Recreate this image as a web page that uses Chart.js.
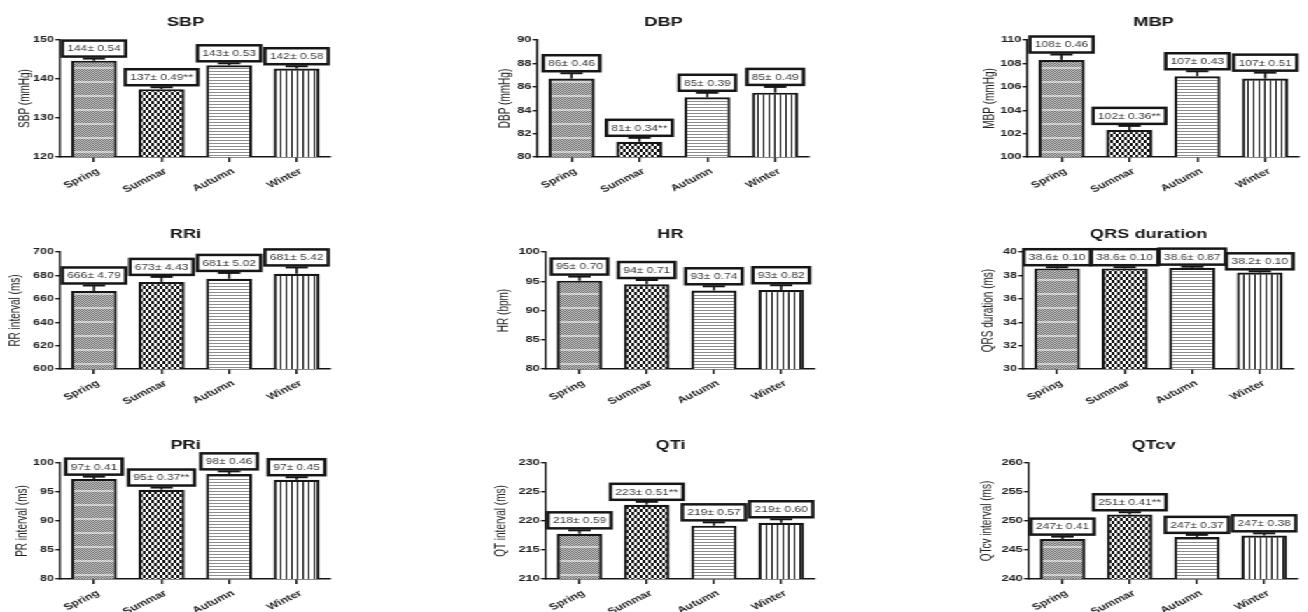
<!DOCTYPE html>
<html><head><meta charset="utf-8">
<script src="https://cdn.jsdelivr.net/npm/chart.js@4.4.1/dist/chart.umd.min.js"></script>
<style>
html,body{margin:0;padding:0;background:#fff;overflow:hidden;width:1308px;height:612px}
#wrap{position:absolute;left:0;top:0;width:935px;height:612px;transform:scaleX(1.4);transform-origin:0 0}
#wrap canvas{position:absolute}
</style></head><body><div id="wrap"></div>
<script>
// ---------- data ----------
const categories = ["Spring", "Summar", "Autumn", "Winter"];

const sbpMean = [144.7, 137.4, 143.5, 142.7];
const sbpErr = [0.54, 0.49, 0.53, 0.58];
const sbpLabels = ["144\u00b1 0.54", "137\u00b1 0.49**", "143\u00b1 0.53", "142\u00b1 0.58"];
const sbpTicks = [120, 130, 140, 150];

const dbpMean = [86.7, 81.3, 85.1, 85.5];
const dbpErr = [0.46, 0.34, 0.39, 0.49];
const dbpLabels = ["86\u00b1 0.46", "81\u00b1 0.34**", "85\u00b1 0.39", "85\u00b1 0.49"];
const dbpTicks = [80, 82, 84, 86, 88, 90];

const mbpMean = [108.3, 102.3, 106.9, 106.7];
const mbpErr = [0.46, 0.36, 0.43, 0.51];
const mbpLabels = ["108\u00b1 0.46", "102\u00b1 0.36**", "107\u00b1 0.43", "107\u00b1 0.51"];
const mbpTicks = [100, 102, 104, 106, 108, 110];

const rriMean = [666.6, 674.3, 677.1, 681.4];
const rriErr = [4.79, 4.43, 5.02, 5.42];
const rriLabels = ["666\u00b1 4.79", "673\u00b1 4.43", "681\u00b1 5.02", "681\u00b1 5.42"];
const rriTicks = [600, 620, 640, 660, 680, 700];

const hrMean = [95.1, 94.5, 93.4, 93.5];
const hrErr = [0.70, 0.71, 0.74, 0.82];
const hrLabels = ["95\u00b1 0.70", "94\u00b1 0.71", "93\u00b1 0.74", "93\u00b1 0.82"];
const hrTicks = [80, 85, 90, 95, 100];

const qrsMean = [38.6, 38.6, 38.65, 38.25];
const qrsErr = [0.10, 0.10, 0.10, 0.10];
const qrsLabels = ["38.6\u00b1 0.10", "38.6\u00b1 0.10", "38.6\u00b1 0.87", "38.2\u00b1 0.10"];
const qrsTicks = [30, 32, 34, 36, 38, 40];

const priMean = [97.24, 95.4, 98.1, 97.1];
const priErr = [0.41, 0.37, 0.46, 0.45];
const priLabels = ["97\u00b1 0.41", "95\u00b1 0.37**", "98\u00b1 0.46", "97\u00b1 0.45"];
const priTicks = [80, 85, 90, 95, 100];

const qtiMean = [217.8, 222.8, 219.2, 219.7];
const qtiErr = [0.59, 0.51, 0.57, 0.60];
const qtiLabels = ["218\u00b1 0.59", "223\u00b1 0.51**", "219\u00b1 0.57", "219\u00b1 0.60"];
const qtiTicks = [210, 215, 220, 225, 230];

const qtcvMean = [246.9, 251.1, 247.24, 247.5];
const qtcvErr = [0.41, 0.41, 0.37, 0.38];
const qtcvLabels = ["247\u00b1 0.41", "251\u00b1 0.41**", "247\u00b1 0.37", "247\u00b1 0.38"];
const qtcvTicks = [240, 245, 250, 255, 260];

const titles = ["SBP", "DBP", "MBP", "RRi", "HR", "QRS duration", "PRi", "QTi", "QTcv"];
const yTitles = ["SBP (mmHg)", "DBP (mmHg)", "MBP (mmHg)", "RR interval (ms)", "HR (bpm)",
                 "QRS duration (ms)", "PR interval (ms)", "QT interval (ms)", "QTcv interval (ms)"];

// ---------- layout (page pixels) ----------
const S = 1.4; // horizontal stretch of the whole figure
const layoutBoxes = [
  {axisX: 60,   endX: 330,  top: 40,    bottom: 157,   yTitleOff: 35},
  {axisX: 537,  endX: 808,  top: 40,    bottom: 157,   yTitleOff: 32},
  {axisX: 1027, endX: 1298, top: 40,    bottom: 157,   yTitleOff: 38},
  {axisX: 60,   endX: 330,  top: 251.7, bottom: 368.3, yTitleOff: 45},
  {axisX: 546,  endX: 815,  top: 251.7, bottom: 368.3, yTitleOff: 41},
  {axisX: 1023, endX: 1293, top: 251.7, bottom: 368.3, yTitleOff: 35},
  {axisX: 60,   endX: 330,  top: 463.3, bottom: 579.3, yTitleOff: 38},
  {axisX: 546,  endX: 815,  top: 463.3, bottom: 579.3, yTitleOff: 44},
  {axisX: 1029, endX: 1298, top: 463.3, bottom: 579.3, yTitleOff: 41}
];

const panels = [
  {mean: sbpMean, err: sbpErr, labels: sbpLabels, ticks: sbpTicks},
  {mean: dbpMean, err: dbpErr, labels: dbpLabels, ticks: dbpTicks},
  {mean: mbpMean, err: mbpErr, labels: mbpLabels, ticks: mbpTicks},
  {mean: rriMean, err: rriErr, labels: rriLabels, ticks: rriTicks},
  {mean: hrMean, err: hrErr, labels: hrLabels, ticks: hrTicks},
  {mean: qrsMean, err: qrsErr, labels: qrsLabels, ticks: qrsTicks},
  {mean: priMean, err: priErr, labels: priLabels, ticks: priTicks},
  {mean: qtiMean, err: qtiErr, labels: qtiLabels, ticks: qtiTicks},
  {mean: qtcvMean, err: qtcvErr, labels: qtcvLabels, ticks: qtcvTicks}
];

const FAM = '"Liberation Sans", Arial, Helvetica, sans-serif';
const INK = '#161616';
const Y_W = 43, PAD_R = 4, TOP_H = 35, X_H = 45;

function makePattern(ctx, w, h, paint) {
  const c = document.createElement('canvas');
  c.width = w; c.height = h;
  const g = c.getContext('2d');
  g.fillStyle = '#fff'; g.fillRect(0, 0, w, h);
  paint(g);
  return ctx.createPattern(c, 'repeat');
}
function patterns(ctx) {
  const spring = makePattern(ctx, 2, 14, g => {
    for (let y = 0; y < 14; y++) for (let x = 0; x < 2; x++) {
      const band = (y === 6 || y === 7);
      const dark = (x + y) % 2 === 0;
      g.fillStyle = band ? (dark ? '#b0b0b0' : '#ececec') : (dark ? '#626262' : '#d2d2d2');
      g.fillRect(x, y, 1, 1);
    }
  });
  const summer = makePattern(ctx, 4, 6, g => {
    g.fillStyle = '#151515';
    g.fillRect(0, 0, 2, 3); g.fillRect(2, 3, 2, 3);
  });
  const autumn = makePattern(ctx, 1, 3, g => {
    g.fillStyle = '#8c8c8c'; g.fillRect(0, 0, 1, 1);
  });
  const winter = makePattern(ctx, 4, 1, g => {
    g.fillStyle = '#151515'; g.fillRect(0, 0, 1, 1);
  });
  return [spring, summer, autumn, winter];
}

const decor = {
  id: 'decor',
  afterDatasetsDraw(chart, args, opts) {
    const p = opts.panel;
    const ctx = chart.ctx, ys = chart.scales.y, meta = chart.getDatasetMeta(0);
    ctx.save();
    meta.data.forEach((bar, i) => {
      const v = p.mean[i], e = p.err[i];
      const x = bar.x, yTop = ys.getPixelForValue(v), yErr = ys.getPixelForValue(v + e);
      ctx.strokeStyle = INK;
      ctx.lineWidth = 1.6;
      ctx.beginPath(); ctx.moveTo(x, yTop); ctx.lineTo(x, yErr); ctx.stroke();
      ctx.lineWidth = 2;
      ctx.beginPath(); ctx.moveTo(x - 8, yErr); ctx.lineTo(x + 8, yErr); ctx.stroke();
      ctx.font = '8.6px ' + FAM;
      const tw = ctx.measureText(p.labels[i]).width;
      const bw = tw + 7, bh = 16;
      const bx = x - bw / 2, by = yErr - 2 - bh;
      ctx.fillStyle = '#fff'; ctx.fillRect(bx, by, bw, bh);
      ctx.lineWidth = 2.5; ctx.strokeStyle = INK; ctx.strokeRect(bx, by, bw, bh);
      ctx.fillStyle = '#3a3a3a'; ctx.textAlign = 'center'; ctx.textBaseline = 'middle';
      ctx.fillText(p.labels[i], x, by + bh / 2 + 0.5);
    });
    const ca = chart.chartArea;
    ctx.font = 'bold 13px ' + FAM;
    ctx.fillStyle = INK; ctx.textAlign = 'center'; ctx.textBaseline = 'middle';
    ctx.fillText(p.title, (ca.left + ca.right) / 2 - 7, ca.top - 18);
    ctx.restore();
  }
};

const wrap = document.getElementById('wrap');
panels.forEach((p, k) => {
  const L = layoutBoxes[k];
  p.title = titles[k];
  const plotW = (L.endX - L.axisX) / S;
  const plotH = L.bottom - L.top;
  const cv = document.createElement('canvas');
  const W = Math.round(plotW + Y_W + PAD_R), H = Math.round(plotH + TOP_H + X_H);
  cv.width = W; cv.height = H;
  cv.style.width = W + 'px'; cv.style.height = H + 'px';
  cv.style.left = (L.axisX / S - Y_W) + 'px';
  cv.style.top = (L.top - TOP_H) + 'px';
  wrap.appendChild(cv);
  const ctx = cv.getContext('2d');
  const pats = patterns(ctx);
  const tks = p.ticks;
  new Chart(ctx, {
    type: 'bar',
    data: {
      labels: categories,
      datasets: [{
        data: p.mean,
        backgroundColor: pats,
        borderColor: INK,
        borderWidth: 2.2,
        barPercentage: 0.68,
        categoryPercentage: 1
      }]
    },
    options: {
      responsive: false,
      animation: false,
      devicePixelRatio: 1,
      layout: {padding: {top: TOP_H, right: PAD_R, left: 0, bottom: 0}},
      plugins: {legend: {display: false}, tooltip: {enabled: false}, decor: {panel: p}},
      scales: {
        x: {
          offset: true,
          grid: {display: true, drawOnChartArea: false, drawTicks: true, tickLength: 5, offset: false, color: INK, lineWidth: 1.4},
          border: {display: true, color: INK, width: 1.4},
          ticks: {autoSkip: false, minRotation: 34, maxRotation: 34, padding: 4, labelOffset: 3, color: '#222',
                  font: {family: FAM, size: 9, weight: 'bold'}},
          afterFit(s) { s.height = X_H; }
        },
        y: {
          min: tks[0], max: tks[tks.length - 1],
          grid: {drawOnChartArea: false, drawTicks: true, tickLength: 3.5, color: INK, lineWidth: 1.4},
          border: {display: true, color: INK, width: 1.4},
          ticks: {stepSize: tks[1] - tks[0], padding: 1, color: '#222',
                  font: {family: FAM, size: 9, weight: 'bold'}},
          title: {display: true, text: yTitles[k], color: '#222', font: {family: FAM, size: 10},
                  padding: {top: Math.max(0, Y_W - L.yTitleOff / S - 6), bottom: 0}},
          afterFit(s) { s.width = Y_W; }
        }
      }
    },
    plugins: [decor]
  });
});
</script>
</body></html>
